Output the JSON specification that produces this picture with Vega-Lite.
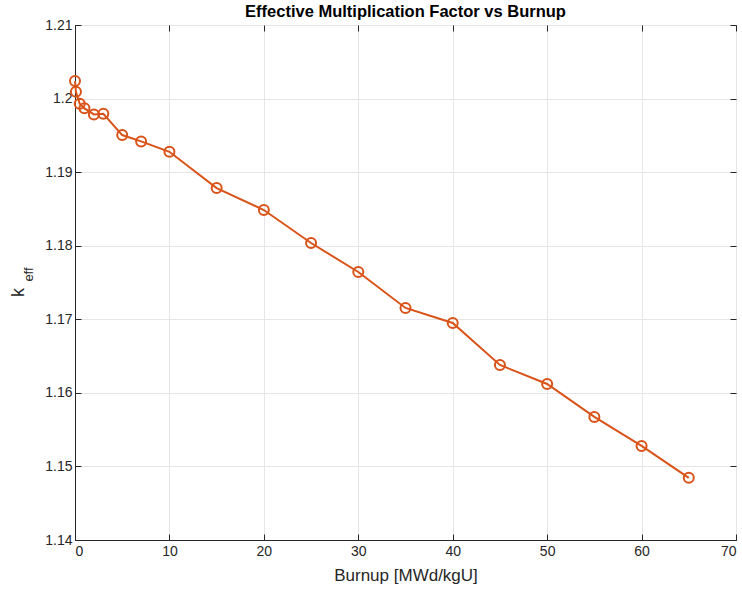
{
  "$schema": "https://vega.github.io/schema/vega-lite/v6.json",
  "autosize": "none",
  "width": 661,
  "height": 515,
  "padding": {"left": 75, "top": 25, "right": 6, "bottom": 50},
  "background": "white",
  "config": {
    "font": "Liberation Sans",
    "view": {"stroke": "#262626", "strokeWidth": 1},
    "axis": {
      "domainColor": "#262626",
      "tickColor": "#262626",
      "gridColor": "#e6e6e6",
      "gridOpacity": 1,
      "labelColor": "#262626",
      "titleColor": "#262626",
      "labelFont": "Liberation Sans",
      "titleFont": "Liberation Sans",
      "labelFontSize": 14,
      "titleFontWeight": "normal",
      "tickSize": -6
    }
  },
  "title": {
    "text": "Effective Multiplication Factor vs Burnup",
    "fontSize": 16.5,
    "fontWeight": "bold",
    "font": "Liberation Sans",
    "color": "black",
    "offset": -2
  },
  "data": {
    "values": [
      {"burnup": 0, "keff": 1.20238},
      {"burnup": 0.1, "keff": 1.20092},
      {"burnup": 0.5, "keff": 1.19929},
      {"burnup": 1, "keff": 1.19867},
      {"burnup": 2, "keff": 1.19785},
      {"burnup": 3, "keff": 1.19793},
      {"burnup": 5, "keff": 1.19504},
      {"burnup": 7, "keff": 1.19418},
      {"burnup": 10, "keff": 1.19277},
      {"burnup": 15, "keff": 1.18784},
      {"burnup": 20, "keff": 1.18485},
      {"burnup": 25, "keff": 1.18037},
      {"burnup": 30, "keff": 1.17643},
      {"burnup": 35, "keff": 1.17154},
      {"burnup": 40, "keff": 1.1695},
      {"burnup": 45, "keff": 1.16379},
      {"burnup": 50, "keff": 1.16121},
      {"burnup": 55, "keff": 1.15673},
      {"burnup": 60, "keff": 1.15279},
      {"burnup": 65, "keff": 1.14845}
    ]
  },
  "layer": [
    {
      "encoding": {
        "x": {
          "field": "burnup",
          "type": "quantitative",
          "scale": {"domain": [0, 70], "nice": false, "zero": false},
          "axis": {
            "title": "Burnup [MWd/kgU]",
            "titleFontSize": 17,
            "values": [0, 10, 20, 30, 40, 50, 60, 70],
            "labelPadding": 10,
            "titlePadding": 9
          }
        },
        "y": {
          "field": "keff",
          "type": "quantitative",
          "scale": {"domain": [1.14, 1.21], "nice": false, "zero": false},
          "axis": {
            "title": "k",
            "titleFontSize": 18,
            "titleAngle": 270,
            "titleAlign": "center",
            "titleBaseline": "middle",
            "titleX": -57,
            "titleY": 267,
            "values": [1.14, 1.15, 1.16, 1.17, 1.18, 1.19, 1.2, 1.21],
            "labelExpr": "format(datum.value, '.3~f')",
            "labelPadding": 9
          }
        }
      },
      "layer": [
        {"mark": {"type": "line", "color": "#D95319", "strokeWidth": 2}},
        {"mark": {"type": "point", "shape": "circle", "color": "#D95319", "filled": false, "strokeWidth": 2, "size": 100, "opacity": 1}}
      ]
    },
    {
      "mark": {"type": "point", "opacity": 0},
      "encoding": {
        "x": {"field": "burnup", "type": "quantitative", "axis": null},
        "y": {
          "field": "keff",
          "type": "quantitative",
          "axis": {
            "orient": "left",
            "title": "eff",
            "titleFontSize": 13,
            "titleAngle": 270,
            "titleAlign": "center",
            "titleBaseline": "middle",
            "titleX": -47,
            "titleY": 249,
            "labels": false,
            "ticks": false,
            "domain": false,
            "grid": false
          }
        }
      }
    },
    {
      "mark": {"type": "point", "opacity": 0},
      "encoding": {
        "x": {
          "field": "burnup",
          "type": "quantitative",
          "axis": {"orient": "top", "labels": false, "title": null, "grid": false, "domain": false, "values": [0, 10, 20, 30, 40, 50, 60, 70]}
        },
        "y": {
          "field": "keff",
          "type": "quantitative",
          "axis": {"orient": "right", "labels": false, "title": null, "grid": false, "domain": false, "values": [1.14, 1.15, 1.16, 1.17, 1.18, 1.19, 1.2, 1.21]}
        }
      }
    }
  ],
  "resolve": {"axis": {"x": "independent", "y": "independent"}}
}
